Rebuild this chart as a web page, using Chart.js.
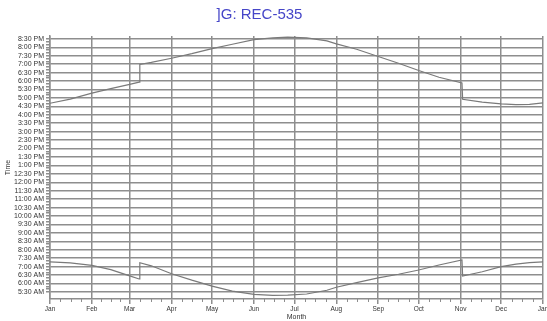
<!DOCTYPE html>
<html>
<head>
<meta charset="utf-8">
<script src="https://cdn.jsdelivr.net/npm/chart.js@4.4.1/dist/chart.umd.min.js"></script>
<style>
  html, body { margin: 0; padding: 0; background: #ffffff; }
  #wrap { width: 547px; height: 321px; }
</style>
</head>
<body>
<div id="wrap"><canvas id="c" width="547" height="321"></canvas></div>
<script>
// ---- data (day of year, time of day in decimal hours) ----
const titleText = ']G: REC-535';
const monthStarts = [0, 31, 59, 90, 120, 151, 181, 212, 243, 273, 304, 334, 365];
const monthLabels = ['Jan', 'Feb', 'Mar', 'Apr', 'May', 'Jun', 'Jul', 'Aug', 'Sep', 'Oct', 'Nov', 'Dec', 'Jan'];

const sunsetDays  = [0, 15, 31, 45, 59, 66, 66.5, 75, 90, 105, 120, 135, 151, 165, 176, 190, 205, 212, 227, 243, 258, 273, 288, 305, 305.5, 320, 334, 345, 355, 365];
const sunsetTimes = [16.68, 16.93, 17.28, 17.55, 17.80, 17.93, 18.98, 19.10, 19.35, 19.62, 19.92, 20.18, 20.45, 20.56, 20.60, 20.56, 20.38, 20.20, 19.88, 19.45, 19.05, 18.62, 18.22, 17.88, 16.92, 16.75, 16.64, 16.60, 16.62, 16.70];

const sunriseDays  = [0, 15, 31, 45, 59, 66, 66.5, 75, 90, 105, 120, 135, 151, 165, 176, 190, 205, 212, 227, 243, 258, 273, 288, 305, 305.5, 320, 334, 345, 355, 365];
const sunriseTimes = [7.28, 7.22, 7.08, 6.82, 6.45, 6.27, 7.23, 7.05, 6.58, 6.20, 5.85, 5.55, 5.36, 5.30, 5.31, 5.38, 5.60, 5.78, 6.05, 6.33, 6.55, 6.80, 7.10, 7.40, 6.44, 6.70, 7.00, 7.15, 7.24, 7.28];

const yMinHours = 5.0833, yMaxHours = 20.6667;

// ---- helpers ----
function toPoints(xs, ys) { return xs.map((x, i) => ({ x: x, y: ys[i] })); }
function fmtTime(mins) {
  let h = Math.floor(mins / 60), m = Math.round(mins % 60);
  const ap = h >= 12 ? 'PM' : 'AM';
  let hh = h % 12; if (hh === 0) hh = 12;
  return hh + ':' + (m < 10 ? '0' + m : m) + ' ' + ap;
}

// minor tick positions (quarter months) for the x axis
const xMinor = [];
for (let i = 0; i < monthStarts.length - 1; i++) {
  const len = monthStarts[i + 1] - monthStarts[i];
  for (let q = 1; q <= 3; q++) xMinor.push(monthStarts[i] + len * q / 4);
}
// y ticks every 10 minutes, labelled on the half hour
const yTickMins = [];
for (let m = 330; m <= 1230; m += 10) yTickMins.push(m);

const gridCol = '#8e8e8e';
const lineCol = '#7a7a7a';

Chart.defaults.font.family = "'Liberation Sans', Arial, sans-serif";
Chart.defaults.color = '#333333';

const titleShift = {
  id: 'titleShift',
  afterLayout(chart) {
    const tb = chart.titleBlock;
    if (tb) { tb.left -= 12; tb.right -= 12; }
  }
};
const minorTicks = {
  id: 'minorTicks',
  afterDraw(chart) {
    const xs = chart.scales.x, ctx = chart.ctx;
    ctx.save();
    ctx.strokeStyle = gridCol;
    ctx.lineWidth = 1;
    xMinor.forEach(v => {
      const px = Math.round(xs.getPixelForValue(v)) + 0.5;
      ctx.beginPath();
      ctx.moveTo(px, xs.top);
      ctx.lineTo(px, xs.top + 3);
      ctx.stroke();
    });
    ctx.restore();
  }
};

new Chart(document.getElementById('c'), {
  type: 'line',
  data: {
    datasets: [
      { label: 'Sunset', data: toPoints(sunsetDays, sunsetTimes), borderColor: lineCol, borderWidth: 1.2, pointRadius: 0, tension: 0, fill: false },
      { label: 'Sunrise', data: toPoints(sunriseDays, sunriseTimes), borderColor: lineCol, borderWidth: 1.2, pointRadius: 0, tension: 0, fill: false }
    ]
  },
  options: {
    responsive: false,
    animation: false,
    devicePixelRatio: 1,
    layout: { padding: { left: 0, right: 4, top: 0, bottom: 0 } },
    plugins: {
      legend: { display: false },
      tooltip: { enabled: false },
      title: {
        display: true,
        text: titleText,
        color: '#4646c8',
        font: { size: 15, weight: 'normal', lineHeight: 1.2 },
        padding: { top: 6, bottom: 12 }
      }
    },
    scales: {
      x: {
        type: 'linear',
        min: 0, max: 365,
        afterBuildTicks(scale) { scale.ticks = monthStarts.map(v => ({ value: v })); },
        afterFit(scale) { scale.height = 22; scale.paddingLeft = 0; scale.paddingRight = 0; },
        ticks: {
          autoSkip: false, maxRotation: 0, minRotation: 0, padding: 1,
          font: { size: 6.5 }, color: '#333',
          callback(value, index) { return monthLabels[index]; }
        },
        grid: {
          color: gridCol,
          lineWidth: 1.5,
          tickLength: 5
        },
        border: { display: true, color: gridCol, width: 1.5 },
        title: { display: true, text: 'Month', font: { size: 7 }, color: '#333', padding: { top: 0, bottom: 0 } }
      },
      y: {
        type: 'linear',
        min: yMinHours, max: yMaxHours,
        afterBuildTicks(scale) { scale.ticks = yTickMins.map(m => ({ value: m / 60, major: m % 30 === 0 })); },
        afterFit(scale) { scale.width = 50; scale.paddingTop = 0; scale.paddingBottom = 0; },
        ticks: {
          autoSkip: false, padding: 2,
          font: { size: 7 }, color: '#333',
          callback(value) {
            const m = Math.round(value * 60);
            return m % 30 === 0 ? fmtTime(m) : '';
          }
        },
        grid: {
          color(ctx) { return ctx.tick && ctx.tick.major ? gridCol : 'rgba(0,0,0,0)'; },
          tickColor: gridCol,
          lineWidth: 1.5,
          tickLength: 4
        },
        border: { display: true, color: gridCol, width: 1.5 },
        title: { display: true, text: 'Time', font: { size: 7 }, color: '#333', padding: { top: 4, bottom: 0 } }
      }
    }
  },
  plugins: [titleShift, minorTicks]
});
</script>
</body>
</html>
